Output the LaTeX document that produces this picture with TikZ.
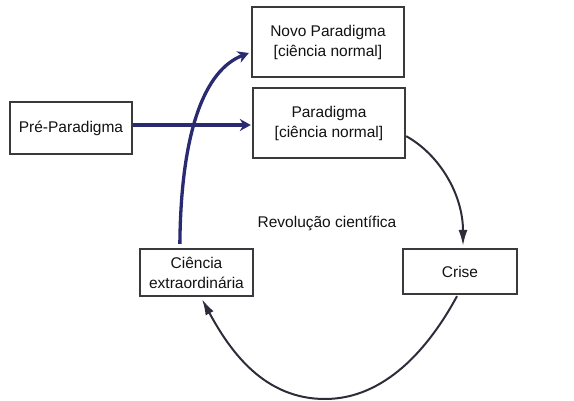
\documentclass[tikz,border=0pt]{standalone}
\usepackage{fontspec}
\setmainfont{Liberation Sans}
\usetikzlibrary{arrows.meta,calc}
\definecolor{boxline}{RGB}{58,58,62}
\definecolor{navyline}{RGB}{42,42,112}
\definecolor{curveline}{RGB}{45,45,58}
\definecolor{txt}{RGB}{18,18,18}
\tikzset{
  stage/.style={draw=boxline, line width=2.3pt, fill=white, text=txt, align=center,
    inner sep=0pt, font=\fontsize{15.5}{20}\selectfont},
  bluearrow/.style={draw=navyline, line width=3.3pt,
    -{Stealth[length=11pt,width=12pt,inset=3.5pt]}},
  cyclearrow/.style={draw=curveline, line width=2pt,
    -{Latex[length=16pt,width=9pt]}},
}
\begin{document}
\begin{tikzpicture}[x=1pt,y=-1pt]
  \useasboundingbox (0,0) rectangle (574,401);
  % stages
  \node[stage, minimum width=152pt, minimum height=70pt] (novo) at (328,42)
    {Novo Paradigma\\{[}ciência normal{]}};
  \node[stage, minimum width=152pt, minimum height=70pt] (par) at (329,123)
    {Paradigma\\{[}ciência normal{]}};
  \node[stage, minimum width=122pt, minimum height=52pt] (pre) at (71,128)
    {Pré-Paradigma};
  \node[stage, minimum width=113pt, minimum height=47pt] (cie) at (196.5,272.5)
    {Ciência\\extraordinária};
  \node[stage, minimum width=114pt, minimum height=45pt] (crise) at (460,271.5)
    {Crise};
  \node[text=txt, font=\fontsize{15.5}{18}\selectfont] (rev) at (327,223)
    {Revolução científica};
  % connectors
  \draw[bluearrow] ($(pre.east)+(0,-3)$) -- ($(par.west)+(-1,2)$);
  \draw[bluearrow] ($(cie.north west)+(41,-4)$)
    .. controls (181,130) and (205,70) .. ($(novo.west)+(-2,11)$);
  \draw[cyclearrow] ($(par.south east)+(0,-23)$)
    .. controls (440,155) and (463,195) .. ($(crise.north)+(3,-2)$);
  \coordinate (low) at (325,399);
  \draw[cyclearrow] ($(crise.south)+(-3,1)$)
    .. controls (429,348) and (385,399) .. (low)
    .. controls (265,399) and (231,353) .. ($(cie.south)+(5.5,2)$);
\end{tikzpicture}
\end{document}
